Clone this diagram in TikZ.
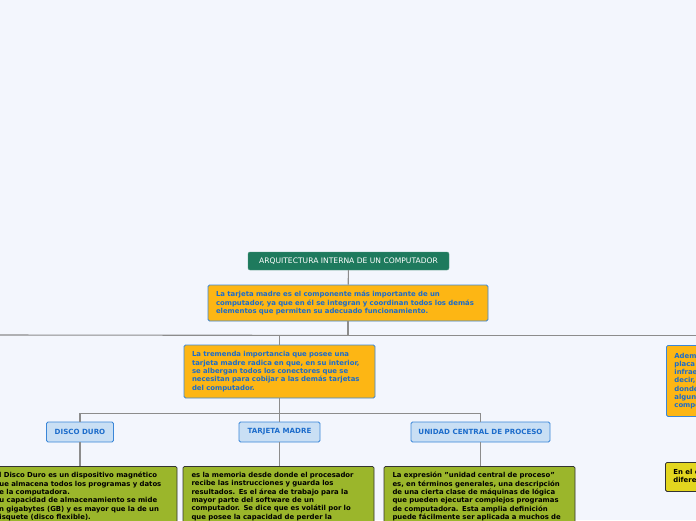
\documentclass[tikz,border=0pt]{standalone}
\usepackage{fontspec}
\setmainfont{DejaVu Sans}
\definecolor{fondo}{HTML}{F3F6FD}
\definecolor{verdeosc}{HTML}{1E7A5D}
\definecolor{naranja}{HTML}{FDB614}
\definecolor{azulborde}{HTML}{3A86D8}
\definecolor{azultxt}{HTML}{1C6CCB}
\definecolor{celeste}{HTML}{C9DFF4}
\definecolor{oliva}{HTML}{9BB62B}
\definecolor{amarillo}{HTML}{E3D61F}
\definecolor{gris}{HTML}{8C8C8C}
\begin{document}
\begin{tikzpicture}[x=1pt, y=-1pt, font=\bfseries\fontsize{6.9}{8.3}\selectfont,
  titulo/.style={draw=verdeosc!80!white, fill=verdeosc, rounded corners=2pt, text=white,
    font=\mdseries\fontsize{7.6}{8}\selectfont, minimum width=201pt, minimum height=18pt, inner sep=0pt},
  idea/.style={draw=azulborde, fill=naranja, text=azultxt, rounded corners=1.5pt, thick,
    align=left, inner xsep=8pt, inner ysep=4pt},
  tema/.style={draw=azulborde, fill=celeste, text=azultxt, rounded corners=1.5pt, thick,
    font=\bfseries\fontsize{7.1}{8}\selectfont, minimum height=20pt, inner xsep=0pt, inner ysep=0pt},
  nota/.style={draw=black!80, fill=oliva, text=black, rounded corners=1.5pt, thick,
    align=left, text width=174pt, inner xsep=8.5pt, inner ysep=6pt, anchor=north},
  aviso/.style={draw=black!80, fill=amarillo, text=black, rounded corners=1.5pt, thick,
    align=left, inner xsep=8pt, inner ysep=5pt},
  rama/.style={draw=gris, line width=1.1pt}]
  \fill[fondo] (0,0) rectangle (696,520);
  \useasboundingbox (0,0) rectangle (696,520);
  \clip (0,0) rectangle (696,520);

  \node[titulo] (titulo) at (348.5,261) {ARQUITECTURA INTERNA DE UN COMPUTADOR};
  \node[idea, text width=264pt, minimum height=36pt] (tarjeta) at (348,303)
    {La tarjeta madre es el componente más importante de un\\computador, ya que en él se integran y coordinan todos los demás\\elementos que permiten su adecuado funcionamiento.};
  \node[idea, text width=175pt, minimum height=53pt] (importancia) at (279.5,371.5)
    {La tremenda importancia que posee una\\tarjeta madre radica en que, en su interior,\\se albergan todos los conectores que se\\necesitan para cobijar a las demás tarjetas\\del computador.};
  \node[idea, text width=175pt, minimum height=71pt, anchor=north west] (ademas) at (666,345)
    {Además, la tarjeta madre es la\\placa que contiene toda la\\infraestructura de comunicación, es\\decir, los circuitos y buses\\donde se instalan y conectan\\algunos de los principales\\componentes del computador.};
  \node[aviso, minimum height=29pt, anchor=north west] (memoria) at (665,462)
    {En el computador existen\\diferentes tipos de memoria.};

  \node[tema, minimum width=67pt] (disco) at (80,432) {DISCO DURO};
  \node[tema, minimum width=81pt] (madre) at (279.5,432) {TARJETA MADRE};
  \node[tema, minimum width=139pt] (cpu) at (480.5,432) {UNIDAD CENTRAL DE PROCESO};

  \node[nota] (discotxt) at (81.5,466)
    {El Disco Duro es un dispositivo magnético\\que almacena todos los programas y datos\\de la computadora.\\Su capacidad de almacenamiento se mide\\en gigabytes (GB) y es mayor que la de un\\disquete (disco flexible).\\ };
  \node[nota] (madretxt) at (278.5,466)
    {es la memoria desde donde el procesador\\recibe las instrucciones y guarda los\\resultados. Es el área de trabajo para la\\mayor parte del software de un\\computador. Se dice que es volátil por lo\\que posee la capacidad de perder la\\información al apagarse el equipo.};
  \node[nota] (cputxt) at (479.5,466)
    {La expresión "unidad central de proceso"\\es, en términos generales, una descripción\\de una cierta clase de máquinas de lógica\\que pueden ejecutar complejos programas\\de computadora. Esta amplia definición\\puede fácilmente ser aplicada a muchos de\\los primeros computadores.};

  \coordinate (izq) at (-10,335);
  \draw[rama] (titulo) -- (tarjeta);
  \draw[rama] (tarjeta.south) -- ++(0,14) -| (importancia.north);
  \draw[rama] (tarjeta.south) -- ++(0,14) -| (ademas.north);
  \draw[rama] (tarjeta.south) -- ++(0,14) -- (izq);
  \draw[rama] (importancia.south) -- ++(0,15) -| (disco.north);
  \draw[rama] (importancia.south) -- ++(0,15) -| (madre.north);
  \draw[rama] (importancia.south) -- ++(0,15) -| (cpu.north);
  \draw[rama] (disco.south) -- (disco.south |- discotxt.north);
  \draw[rama] (madre.south) -- (madre.south |- madretxt.north);
  \draw[rama] (cpu.south) -- (cpu.south |- cputxt.north);
\end{tikzpicture}
\end{document}
